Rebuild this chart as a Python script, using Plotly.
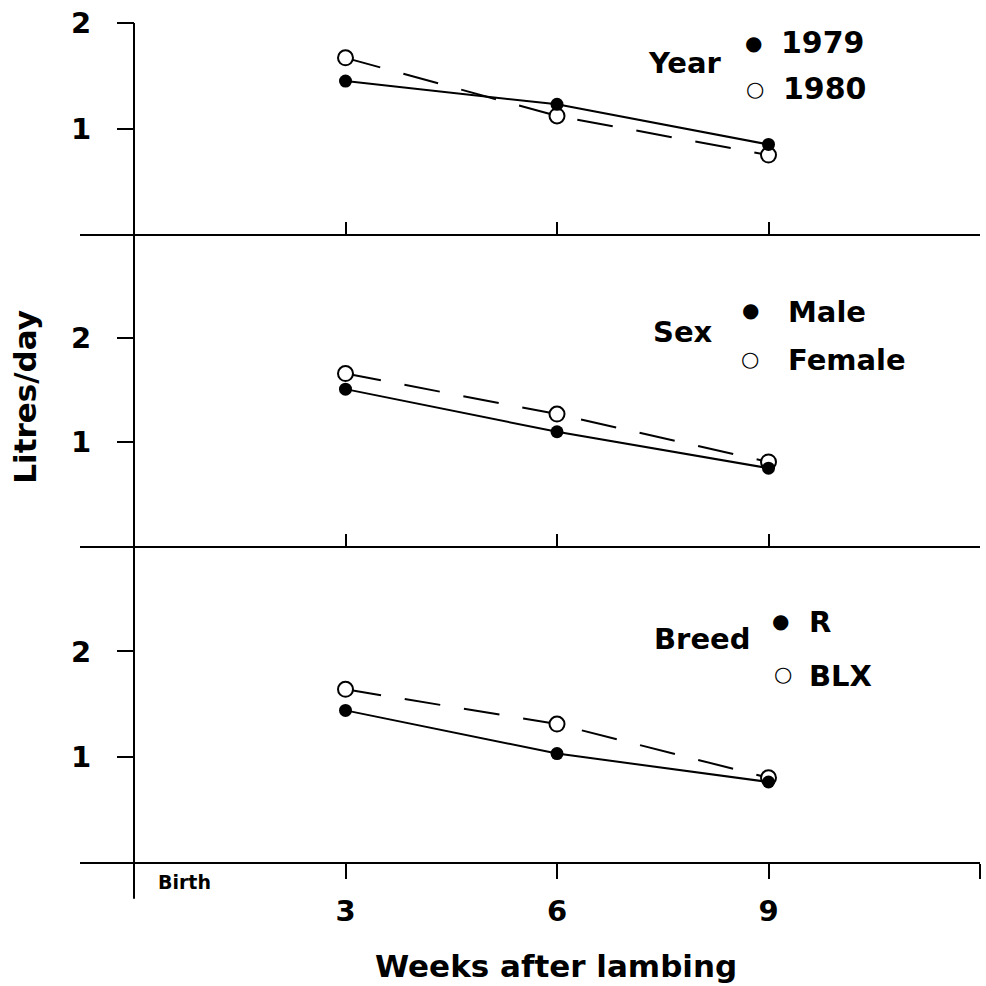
import plotly.graph_objects as go

# ---- data ----
weeks = [3, 6, 9]
year_1979 = [1.45, 1.23, 0.85]
year_1980 = [1.67, 1.12, 0.75]
sex_male = [1.51, 1.10, 0.75]
sex_female = [1.66, 1.27, 0.81]
breed_r = [1.44, 1.03, 0.76]
breed_blx = [1.64, 1.31, 0.80]

x_ticks = [3, 6, 9, 12]
x_tick_labels = ["3", "6", "9", ""]
y_ticks = [1, 2]

# ---- layout helpers ----
W = H = 986
ML, MR, MT, MB = 80, 6, 20, 124
PW = W - ML - MR
PH = H - MT - MB


def px(xp):
    return (xp - ML) / PW


def py(yp):
    return (H - MB - yp) / PH


FONT = "DejaVu Sans"
X0_PIX = 134
XMIN = -(X0_PIX - ML) / ((W - MR - X0_PIX) / 12.0)

fig = go.Figure()

panels = [
    ("x", "y", year_1979, year_1980),
    ("x2", "y2", sex_male, sex_female),
    ("x3", "y3", breed_r, breed_blx),
]
for xa, ya, filled, opened in panels:
    fig.add_trace(go.Scatter(
        x=weeks, y=opened, mode="lines+markers", xaxis=xa, yaxis=ya,
        line=dict(color="black", width=2, dash="36px,24px"),
        marker=dict(symbol="circle", size=15, color="white",
                    line=dict(color="black", width=2)),
        showlegend=False, cliponaxis=False, hoverinfo="skip"))
    fig.add_trace(go.Scatter(
        x=weeks, y=filled, mode="lines+markers", xaxis=xa, yaxis=ya,
        line=dict(color="black", width=2),
        marker=dict(symbol="circle", size=13, color="black"),
        showlegend=False, cliponaxis=False, hoverinfo="skip"))

tickfont = dict(family=FONT, size=29, color="black", weight="bold")
xcommon = dict(range=[XMIN, 12], showgrid=False, zeroline=False, showline=True,
               linecolor="black", linewidth=2, tickmode="array", tickvals=x_ticks,
               tickcolor="black", tickwidth=2, domain=[0, 1])
ycommon = dict(anchor="free", position=px(X0_PIX), showgrid=False, zeroline=False,
               showline=False, tickmode="array", tickvals=y_ticks, ticks="outside",
               ticklen=17, tickwidth=2, tickcolor="black", tickfont=tickfont,
               ticklabelstandoff=20)

fig.update_layout(
    width=W, height=H,
    margin=dict(l=ML, r=MR, t=MT, b=MB, pad=0),
    paper_bgcolor="white", plot_bgcolor="white",
    showlegend=False,
    xaxis=dict(**xcommon, anchor="y", ticks="inside", ticklen=12, showticklabels=False),
    xaxis2=dict(**xcommon, anchor="y2", matches="x", ticks="inside", ticklen=12,
                showticklabels=False),
    xaxis3=dict(**xcommon, anchor="y3", matches="x", ticks="outside", ticklen=15,
                ticktext=x_tick_labels, tickfont=tickfont, ticklabelstandoff=7),
    yaxis=dict(**ycommon, domain=[py(232), 1], range=[0, 2]),
    yaxis2=dict(**ycommon, domain=[py(545), py(232)], range=[0, 3]),
    yaxis3=dict(**ycommon, domain=[0, py(545)], range=[0, 3]),
)

# vertical axis line (continuous across the three panels, extending below)
fig.add_shape(type="line", xref="x", yref="paper", x0=0, x1=0,
              y0=py(899), y1=1, line=dict(color="black", width=2), layer="above")


def ann(text, xp, yp, size=29, xanchor="left", yanchor="middle", angle=0):
    fig.add_annotation(text=text, x=px(xp), y=py(yp), xref="paper", yref="paper",
                       xanchor=xanchor, yanchor=yanchor, showarrow=False,
                       textangle=angle,
                       font=dict(family=FONT, size=size, color="black", weight="bold"))


# legends per panel
ann("Year", 685, 60, xanchor="center")
ann("●", 753, 40, size=20, xanchor="center")
ann("1979", 779, 40, size=30)
ann("○", 755, 86, size=21, xanchor="center")
ann("1980", 781, 86, size=30)

ann("Sex", 683, 330, xanchor="center")
ann("●", 750, 308, size=20, xanchor="center")
ann("Male", 786, 310)
ann("○", 750, 357, size=21, xanchor="center")
ann("Female", 786, 358)

ann("Breed", 702, 638, xanchor="center")
ann("●", 780, 620, size=20, xanchor="center")
ann("R", 807, 621)
ann("○", 783, 673, size=21, xanchor="center")
ann("BLX", 807, 675)

# axis labels
ann("Birth", 156, 882, size=19)
ann("Weeks after lambing", 556, 966, size=31, xanchor="center")
ann("Litres/day", 25, 395, size=31, xanchor="center", angle=-90)

fig.write_html("out.html",
               config={"displayModeBar": False, "staticPlot": True},
               post_script="document.body.style.margin='0';"
                           "document.body.style.overflow='hidden';")
